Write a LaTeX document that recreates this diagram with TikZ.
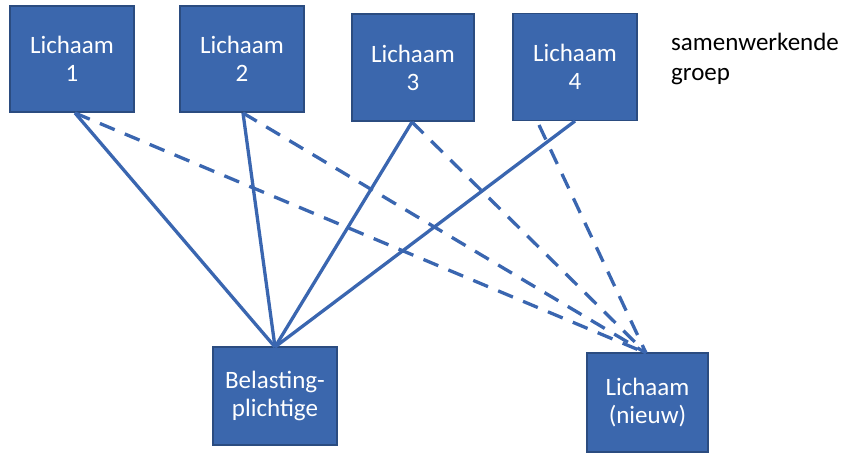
\documentclass[tikz,border=0pt]{standalone}
\usepackage{fontspec}
\setmainfont{Carlito}
\definecolor{boxfill}{HTML}{3B67AD}
\definecolor{boxedge}{HTML}{2B4C80}
\definecolor{linec}{HTML}{3A66B0}
\begin{document}
\begin{tikzpicture}[x=1pt,y=-1pt,
  body/.style={draw=boxedge,line width=1.2pt,fill=boxfill,text=white,align=center,
    font=\fontsize{25}{28}\selectfont,inner sep=0pt},
  solidl/.style={draw=linec,line width=3.3pt},
  dashl/.style={draw=linec,line width=3.3pt,dash pattern=on 16pt off 11pt}]
\useasboundingbox (0,0) rectangle (858,453);
\node[body,minimum width=124pt,minimum height=106pt] (l1) at (72,59) {Lichaam\\1};
\node[body,minimum width=124pt,minimum height=106pt] (l2) at (242,59) {Lichaam\\2};
\node[body,minimum width=122pt,minimum height=107pt] (l3) at (413,67.5) {Lichaam\\3};
\node[body,minimum width=124pt,minimum height=107pt] (l4) at (575,67) {Lichaam\\4};
\node[body,minimum width=124pt,minimum height=98pt] (bp) at (275,396) {Belasting-\\plichtige};
\node[body,minimum width=121pt,minimum height=99pt] (ln) at (647.5,402.5) {Lichaam\\(nieuw)};
\node[anchor=north west,align=left,font=\fontsize{25}{30}\selectfont,inner sep=0pt] (grp) at (671,33) {samenwerkende\\groep};
\coordinate (b1) at (75,113);
\coordinate (b2) at (243,113);
\coordinate (b3) at (412,122);
\coordinate (b4) at (575,121);
\coordinate (b4d) at (539,125);
\coordinate (bt) at (275,347);
\coordinate (nt) at (646,353);
\draw[solidl] (b1) -- (bt);
\draw[solidl] (b2) -- (bt);
\draw[solidl] (b3) -- (bt);
\draw[solidl] (b4) -- (bt);
\draw[dashl] (b1) -- (nt);
\draw[dashl] (b2) -- (nt);
\draw[dashl] (b3) -- (nt);
\draw[dashl] (b4d) -- (nt);
\end{tikzpicture}
\end{document}
